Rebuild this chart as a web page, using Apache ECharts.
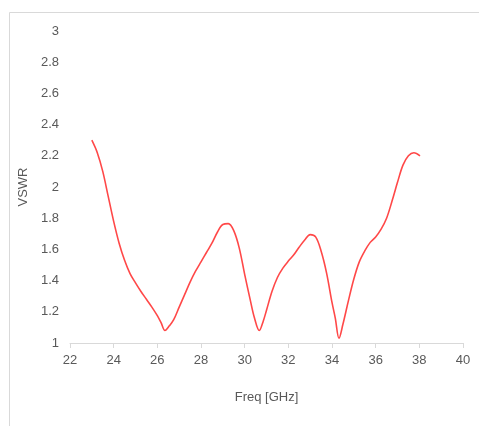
<!DOCTYPE html>
<html>
<head>
<meta charset="utf-8">
<script src="https://cdn.jsdelivr.net/npm/echarts@6/dist/echarts.min.js"></script>
<style>html,body{margin:0;padding:0;background:#fff}#c{width:479px;height:426px}</style>
</head>
<body>
<div id="c"></div>
<script>
var freq = [23.0, 23.25, 23.5, 23.75, 24.0, 24.25, 24.5, 24.75, 25.0, 25.25, 25.5, 25.75, 26.0, 26.17, 26.35, 26.55, 26.75, 27.0, 27.25, 27.5, 27.75, 28.0, 28.25, 28.5, 28.75, 29.0, 29.25, 29.5, 29.75, 30.0, 30.25, 30.45, 30.67, 30.85, 31.0, 31.25, 31.5, 31.75, 32.0, 32.25, 32.5, 32.75, 33.0, 33.25, 33.5, 33.75, 34.0, 34.15, 34.32, 34.5, 34.75, 35.0, 35.25, 35.5, 35.75, 36.0, 36.25, 36.5, 36.75, 37.0, 37.25, 37.5, 37.75, 38.03];
var vswr = [2.30, 2.22, 2.10, 1.94, 1.78, 1.64, 1.53, 1.445, 1.385, 1.33, 1.28, 1.23, 1.175, 1.13, 1.08, 1.11, 1.15, 1.23, 1.31, 1.39, 1.46, 1.52, 1.58, 1.64, 1.71, 1.76, 1.765, 1.72, 1.61, 1.44, 1.28, 1.16, 1.08, 1.14, 1.21, 1.33, 1.42, 1.48, 1.525, 1.565, 1.615, 1.66, 1.695, 1.68, 1.59, 1.45, 1.26, 1.16, 1.03, 1.12, 1.27, 1.41, 1.52, 1.59, 1.645, 1.68, 1.73, 1.80, 1.91, 2.03, 2.14, 2.20, 2.22, 2.20];
var xTicks = [22, 24, 26, 28, 30, 32, 34, 36, 38, 40];
var yTicks = [1, 1.2, 1.4, 1.6, 1.8, 2, 2.2, 2.4, 2.6, 2.8, 3];

var pts = freq.map(function (f, i) { return [f, vswr[i]]; });
var font = '"Liberation Sans", Arial, sans-serif';
var chart = echarts.init(document.getElementById('c'), null, { renderer: 'canvas' });
chart.setOption({
  animation: false,
  backgroundColor: '#fff',
  graphic: [{
    type: 'rect', left: 7, top: 10, silent: true,
    shape: { width: 520, height: 460 },
    style: { fill: 'none', stroke: '#d9d9d9', lineWidth: 1 }
  }],
  grid: { left: 70, right: 16, top: 31, bottom: 83 },
  xAxis: {
    type: 'value', min: xTicks[0], max: xTicks[xTicks.length - 1], interval: 2,
    name: 'Freq [GHz]', nameLocation: 'middle', nameGap: 48,
    nameTextStyle: { color: '#595959', fontSize: 13, fontFamily: font },
    axisLine: { show: true, lineStyle: { color: '#d9d9d9', width: 1 } },
    axisTick: { show: true, length: 5, lineStyle: { color: '#d9d9d9' } },
    axisLabel: { color: '#595959', fontSize: 13, fontFamily: font, margin: 11 },
    splitLine: { show: false }
  },
  yAxis: {
    type: 'value', min: yTicks[0], max: yTicks[yTicks.length - 1], interval: 0.2,
    name: 'VSWR', nameLocation: 'middle', nameGap: 30, nameRotate: 90,
    nameTextStyle: { color: '#595959', fontSize: 13, fontFamily: font },
    axisLine: { show: false },
    axisTick: { show: false },
    axisLabel: { color: '#595959', fontSize: 13, fontFamily: font, margin: 11,
      formatter: function (v) { return String(Math.round(v * 10) / 10); } },
    splitLine: { show: false }
  },
  series: [{
    type: 'line', data: pts, smooth: 0.35, showSymbol: false,
    lineStyle: { color: '#ff4848', width: 1.6 }
  }]
});
</script>
</body>
</html>
